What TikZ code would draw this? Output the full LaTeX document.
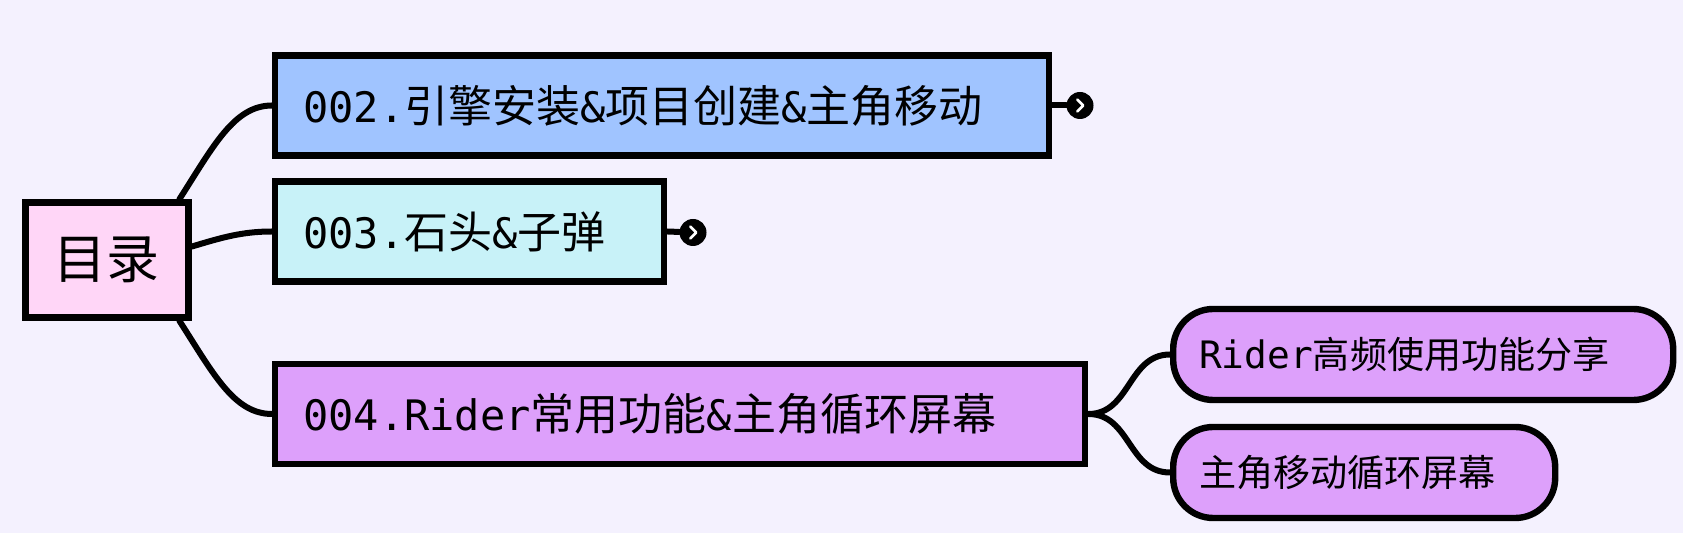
\documentclass[tikz,border=0pt]{standalone}
\usepackage{fontspec}
\newfontfamily\cjkfont{Noto Sans CJK SC}
\newfontfamily\latinfont{DejaVu Sans Mono}
\usetikzlibrary{calc}

\definecolor{pagebg}{HTML}{F4F1FE}
\definecolor{rootpink}{HTML}{FFD6F7}
\definecolor{topicblue}{HTML}{A0C4FF}
\definecolor{topiccyan}{HTML}{C8F2F8}
\definecolor{topicviolet}{HTML}{DDA0FB}

\newcommand\Lt[1]{{\latinfont\fontsize{21pt}{24pt}\selectfont #1}}
\newcommand\Ct[1]{{\cjkfont\fontsize{22pt}{24pt}\selectfont #1}}
\newcommand\Ls[1]{{\latinfont\fontsize{18.9pt}{24pt}\selectfont #1}}
\newcommand\Cs[1]{{\cjkfont\fontsize{18.55pt}{24pt}\selectfont #1}}

\tikzset{
  box/.style={draw=black, line width=3.2pt, anchor=west, inner xsep=14pt, inner ysep=0pt, align=left},
  topicbox/.style={box, minimum height=50pt},
  subbox/.style={box, fill=topicviolet, rounded corners=20pt, minimum height=45.5pt, inner xsep=13pt},
  link/.style={line width=3pt, line cap=round},
  foldmark/.style={circle, fill=black, minimum size=13.5pt, inner sep=0pt,
    path picture={\draw[white, line width=1.3pt, line cap=round, line join=round]
      ($(path picture bounding box.center)+(-1.4pt,3pt)$) -- ++(3pt,-3pt) -- ++(-3pt,-3pt);}},
}

\begin{document}
\begin{tikzpicture}[x=0.5pt, y=-0.5pt]

  \fill[pagebg] (0,0) rectangle (1683,533);
  \useasboundingbox (0,0) rectangle (1683,533);

  \node[fill=rootpink, draw=black, line width=3.2pt, minimum width=81.5pt, minimum height=57.5pt, inner sep=0pt]
    (root) at (107,260) {\cjkfont\fontsize{26.5pt}{30pt}\selectfont 目录};

  \node[topicbox, fill=topicblue, text width=359pt] (t2) at (272,105.5)
    {\Lt{002.}\Ct{引擎安装}\Lt{\&}\Ct{项目创建}\Lt{\&}\Ct{主角移动}};
  \node[topicbox, fill=topiccyan, text width=166.5pt] (t3) at (272,231.5)
    {\Lt{003.}\Ct{石头}\Lt{\&}\Ct{子弹}};
  \node[topicbox, fill=topicviolet, text width=377pt] (t4) at (272,414)
    {\Lt{004.Rider}\Ct{常用功能}\Lt{\&}\Ct{主角循环屏幕}};

  \node[subbox, text width=224pt] (s1) at (1170,354.5) {\Ls{Rider}\Cs{高频使用功能分享}};
  \node[subbox, text width=165pt] (s2) at (1170,472.5) {\Cs{主角移动循环屏幕}};

  \node[foldmark] (f2) at (1080,105.5) {};
  \node[foldmark] (f3) at (693,232.5) {};

  \draw[link] (root.40) .. controls +(34,-53) and +(-38,0) .. (t2.west); %% root->002
  \draw[link] (root.9) .. controls +(30,-9) and +(-30,0) .. (t3.west); %% root->003
  \draw[link] (root.-40) .. controls +(34,53) and +(-38,0) .. (t4.west); %% root->004

  \draw[link] (t2.east) -- (f2);
  \draw[link] (t3.east) -- (f3);

  \draw[link] (t4.east) .. controls +(42,0) and +(-42,0) .. (s1.west); %% 004->Rider
  \draw[link] (t4.east) .. controls +(42,0) and +(-42,0) .. (s2.west); %% 004->move

\end{tikzpicture}
\end{document}
